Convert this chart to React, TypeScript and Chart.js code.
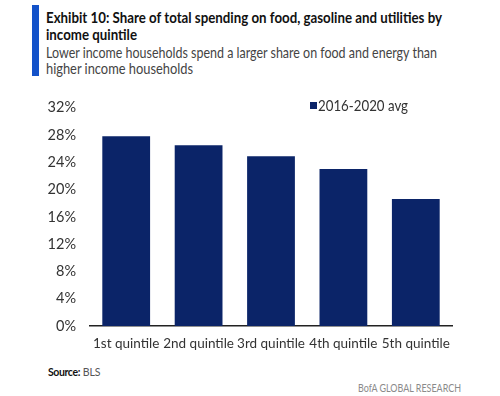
import React, { useEffect, useLayoutEffect, useRef } from "react";
import { Chart, registerables } from "chart.js";

Chart.register(...registerables);

const categories = ["1st quintile", "2nd quintile", "3rd quintile", "4th quintile", "5th quintile"];
const seriesLabel = "2016-2020 avg";
const shareValues = [27.8, 26.5, 24.9, 23.0, 18.6];
const yTicks = [0, 4, 8, 12, 16, 20, 24, 28, 32];

const titleLines = ["Exhibit 10: Share of total spending on food, gasoline and utilities by", "income quintile"];
const subtitleLines = ["Lower income households spend a larger share on food and energy than", "higher income households"];

const BAR_COLOR = "#0b2468";
const ACCENT = "#1352c9";
const FONT = "Lato, 'Open Sans', sans-serif";

function FitText(props: { text: string; width: number; left: number; top: number; size: number; weight?: number; color: string }) {
  const ref = useRef<HTMLSpanElement>(null);
  useLayoutEffect(() => {
    const el = ref.current;
    if (!el) return;
    el.style.transform = "none";
    const w = el.getBoundingClientRect().width;
    if (w > 0) el.style.transform = `scaleX(${props.width / w})`;
  }, [props.text, props.width]);
  return (
    <span
      ref={ref}
      style={{
        position: "absolute",
        left: props.left,
        top: props.top,
        whiteSpace: "nowrap",
        fontFamily: FONT,
        fontSize: props.size,
        fontWeight: props.weight ?? 400,
        color: props.color,
        lineHeight: "18px",
        transformOrigin: "left center",
        display: "inline-block",
      }}
    >
      {props.text}
    </span>
  );
}

export default function App() {
  const canvasRef = useRef<HTMLCanvasElement>(null);

  useEffect(() => {
    document.body.style.margin = "0";
    const canvas = canvasRef.current;
    if (!canvas) return;
    const chart = new Chart(canvas, {
      type: "bar",
      data: {
        labels: categories,
        datasets: [
          {
            label: seriesLabel,
            data: shareValues,
            backgroundColor: BAR_COLOR,
            categoryPercentage: 1,
            barPercentage: 0.66,
          },
        ],
      },
      options: {
        animation: false,
        responsive: false,
        maintainAspectRatio: false,
        layout: { padding: { top: 13, right: 48, bottom: 0, left: 0 } },
        plugins: { legend: { display: false }, tooltip: { enabled: false }, title: { display: false } },
        scales: {
          x: {
            grid: { display: false, drawTicks: false },
            border: { display: true, color: "#222", width: 1.5 },
            ticks: {
              color: "#333",
              font: { family: FONT, size: 13.5 },
              padding: 10,
              maxRotation: 0,
              autoSkip: false,
            },
            afterFit: (s: any) => {
              s.height = 34;
            },
          },
          y: {
            min: 0,
            max: 32,
            grid: { display: false, drawTicks: false },
            border: { display: false },
            afterBuildTicks: (s: any) => {
              s.ticks = yTicks.map((v) => ({ value: v }));
            },
            ticks: {
              color: "#333",
              font: { family: FONT, size: 14.5 },
              padding: 14,
              callback: (v: any) => `${v}%`,
            },
            afterFit: (s: any) => {
              s.width = 90;
            },
          },
        },
      },
    });
    return () => chart.destroy();
  }, []);

  return (
    <div style={{ position: "fixed", left: 0, top: 0, width: 500, height: 396, background: "#fff", overflow: "hidden" }}>
      <div style={{ position: "absolute", left: 32, top: 5, width: 7, height: 71, background: ACCENT }} />
      <FitText text={titleLines[0]} left={46} top={8} width={396} size={15} weight={700} color="#111" />
      <FitText text={titleLines[1]} left={46} top={25} width={91} size={15} weight={700} color="#111" />
      <FitText text={subtitleLines[0]} left={46} top={43} width={391} size={15} color="#444" />
      <FitText text={subtitleLines[1]} left={46} top={59} width={147} size={15} color="#444" />
      <canvas ref={canvasRef} width={500} height={275} style={{ position: "absolute", left: 0, top: 85, width: 500, height: 275 }} />
      <div style={{ position: "absolute", left: 310, top: 102, width: 7, height: 7, background: BAR_COLOR }} />
      <FitText text={seriesLabel} left={318} top={96} width={90} size={15} color="#333" />
      <span style={{ position: "absolute", left: 48, top: 366, fontFamily: FONT, fontSize: 10.5, color: "#111", whiteSpace: "nowrap" }}>
        <b style={{ letterSpacing: -0.4 }}>Source:</b> <span style={{ color: "#555" }}>BLS</span>
      </span>
      <FitText text="BofA GLOBAL RESEARCH" left={358} top={379} width={103} size={11} color="#8a8a8a" />
    </div>
  );
}
